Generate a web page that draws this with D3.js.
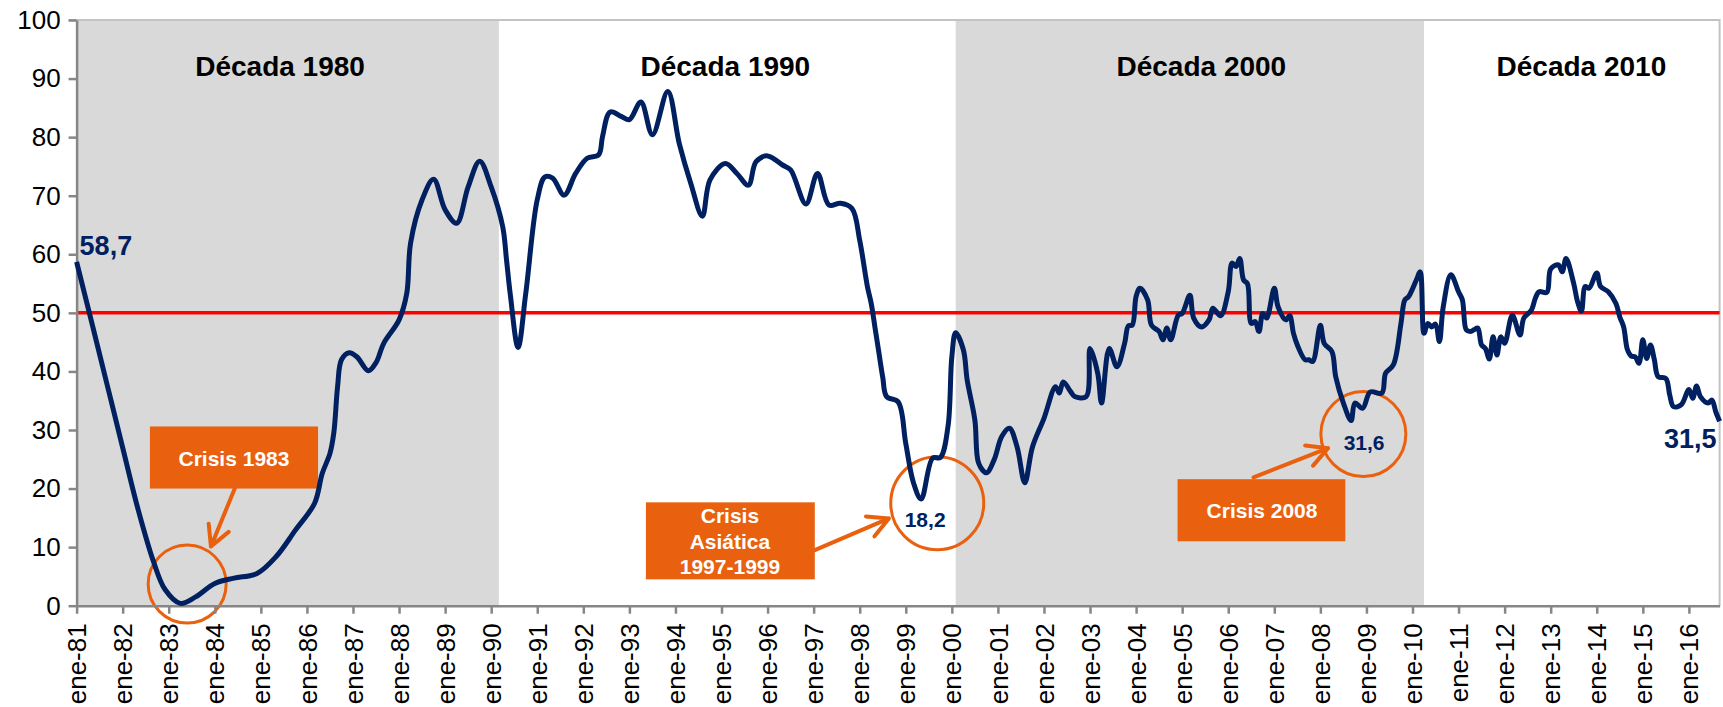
<!DOCTYPE html>
<html>
<head>
<meta charset="utf-8">
<script src="https://cdn.jsdelivr.net/npm/d3@7"></script>
<style>
    body { margin: 0; background: #fff; }
    text { font-family: "Liberation Sans", Arial, sans-serif; }
</style>
</head>
<body>
<div id="chart"></div>
<script>
// Months since ene-81 and index value
const meses = [
    0, 4, 8, 12, 16, 20, 23, 27, 31, 36, 41, 47, 52, 57, 62, 64, 66, 67, 68,
    69, 71, 73, 76, 78, 80, 84, 86, 87, 90, 93, 96, 99, 102, 105, 108, 111, 112, 113, 115,
    117, 120, 122, 124, 127, 130, 133, 136, 137, 139, 142, 144, 147, 150, 154, 157, 160, 163, 165, 169,
    172, 175, 177, 180, 184, 186, 190, 193, 196, 199, 202, 204, 206, 207, 208, 209, 210, 211, 214, 216,
    218, 220, 223, 225, 227, 228, 229, 231, 232, 234, 235, 237, 239, 241, 243, 245, 247, 249, 252, 255,
    256, 257, 259, 260, 263, 264, 266, 267, 269, 271, 273, 274, 275, 276, 277, 279, 280, 282, 283, 284,
    285, 287, 288, 290, 291, 293, 295, 296, 298, 300, 301, 302, 303, 304, 305, 306, 307, 308, 309, 310,
    312, 313, 315, 316, 317, 318, 320, 321, 322, 324, 325, 327, 328, 330, 332, 333, 335, 337, 340, 341,
    343, 345, 346, 347, 349, 350, 351, 352, 353, 354, 355, 356, 358, 360, 361, 362, 363, 364, 365, 366,
    367, 368, 369, 370, 371, 372, 374, 376, 377, 379, 380, 381, 383, 384, 386, 387, 388, 390, 391, 392,
    393, 394, 396, 397, 399, 401, 402, 403, 404, 405, 406, 407, 408, 409, 410, 411, 412, 414, 415, 416,
    418, 420, 421, 422, 423, 425, 426, 427, 428
];
const valores = [
    58.7, 48.2, 37.6, 27.0, 16.5, 7.6, 2.8, 0.4, 1.5, 3.8, 4.7, 5.5, 8.4, 12.9, 17.5, 22.6, 26.0, 29.5, 37.5,
    42.0, 43.2, 42.5, 40.1, 41.5, 44.8, 48.8, 53.3, 61.9, 69.3, 72.8, 67.6, 65.3, 71.5, 75.9, 71.5, 64.7, 59.0, 53.0, 44.1,
    53.3, 69.3, 73.2, 73.0, 70.1, 73.8, 76.4, 77.0, 80.1, 84.3, 83.5, 83.0, 86.0, 80.4, 87.8, 78.9, 72.1, 66.5, 72.7, 75.5,
    73.8, 71.8, 75.8, 76.8, 75.2, 74.4, 68.6, 73.8, 68.4, 68.7, 67.8, 62.4, 54.5, 51.6, 47.4, 43.2, 39.0, 35.7, 34.8, 27.7,
    21.0, 18.2, 25.2, 25.3, 30.6, 42.5, 46.6, 43.7, 38.5, 31.7, 24.3, 22.7, 24.9, 28.9, 30.3, 27.1, 21.0, 27.1, 32.0, 37.4,
    36.3, 38.2, 36.5, 35.7, 35.7, 43.9, 39.7, 34.6, 43.9, 40.8, 44.8, 47.8, 47.9, 52.8, 54.2, 52.2, 47.9, 46.8, 45.4, 47.4,
    45.4, 49.6, 49.9, 53.0, 49.1, 47.6, 48.8, 50.8, 49.5, 53.6, 58.5, 57.9, 59.3, 55.6, 55.0, 48.2, 48.5, 46.8, 49.9, 49.1,
    54.2, 51.0, 48.8, 49.5, 46.5, 44.5, 42.0, 42.0, 41.7, 47.9, 44.8, 43.4, 39.1, 34.6, 31.6, 34.6, 33.7, 36.5, 36.3, 39.7,
    41.1, 48.2, 52.2, 52.8, 55.6, 57.0, 46.5, 48.2, 47.6, 48.1, 45.1, 51.0, 56.5, 53.6, 52.2, 47.1, 46.8, 47.1, 47.4, 44.5,
    43.9, 42.1, 45.9, 42.8, 45.9, 44.8, 49.6, 46.2, 49.1, 50.5, 52.5, 53.6, 53.5, 57.5, 58.2, 57.0, 59.3, 55.0, 51.9, 50.3,
    54.5, 54.2, 56.8, 54.5, 53.6, 51.6, 49.3, 47.6, 43.7, 42.6, 42.5, 41.4, 45.4, 42.2, 44.5, 42.0, 39.1, 38.8, 36.0, 34.0,
    34.3, 36.9, 35.4, 37.5, 35.7, 34.6, 35.1, 33.1, 31.5
];

// Decade bands (months since ene-81)
const decadas = ['Década 1980', 'Década 1990', 'Década 2000', 'Década 2010'];
const decadaInicio = [0, 110, 229, 351];
const decadaFin = [110, 229, 351, 428];
const decadaSombreada = [true, false, true, false];

// Axis ticks
const yTicks = [0, 10, 20, 30, 40, 50, 60, 70, 80, 90, 100];
const xTickMeses = d3.range(0, 421, 12);
const mesTick = 'ene';
const anioInicio = 1981;
const umbral = 50;

// Crisis callouts
const crisisTextos = [['Crisis 1983'], ['Crisis', 'Asiática', '1997-1999'], ['Crisis 2008']];

// Value labels (month, value)
const etiquetaMes = [0, 428, 220, 332];
const etiquetaValor = [58.7, 31.5, 18.2, 31.6];

class IndiceChart {
    constructor(config) {
        this.config = {
            parentElement: config.parentElement,
            containerWidth: 1723,
            containerHeight: 707,
            margin: { top: 20, right: 3.4, bottom: 101.3, left: 76.6 },
            navy: '#002060',
            orange: '#E9600F',
            grid: '#868686'
        };
        // annotation layout, in data units (months, index)
        this.layout = {
            decadaLabelMes: [53, 169, 293, 392],
            circulos: [
                { m: 28.8, v: 3.7, r: 39 },
                { m: 224.2, v: 17.5, r: 46.5 },
                { m: 335.2, v: 29.3, r: 42.5 }
            ],
            cajas: [
                { m0: 19.1, m1: 62.9, v0: 30.6, v1: 20.0, tm: 41, tv: 23.85 },
                { m0: 148.3, m1: 192.3, v0: 17.65, v1: 4.5, tm: 170.2, tv: 14.07 },
                { m0: 286.8, m1: 330.5, v0: 21.6, v1: 11.0, tm: 308.8, tv: 14.9 }
            ],
            flechas: [
                { m0: 41.2, v0: 20, m1: 35, v1: 10.1 },
                { m0: 192.3, v0: 9.5, m1: 211.6, v1: 14.9 },
                { m0: 306.6, v0: 21.9, m1: 326, v1: 26.9 }
            ],
            etiquetas: [
                { dx: 3, dy: -7, anchor: 'start', size: 27 },
                { dx: -3, dy: 27, anchor: 'end', size: 27 },
                { dx: 4, dy: 28, anchor: 'middle', size: 21 },
                { dx: 13, dy: 29, anchor: 'middle', size: 21 }
            ]
        };
        this.data = meses.map((m, i) => ({ mes: m, valor: valores[i] }));
        this.initVis();
    }

    initVis() {
        let vis = this;

        vis.width = vis.config.containerWidth - vis.config.margin.left - vis.config.margin.right;
        vis.height = vis.config.containerHeight - vis.config.margin.top - vis.config.margin.bottom;

        vis.xScale = d3.scaleLinear()
            .domain([0, 428])
            .range([0, vis.width]);

        vis.yScale = d3.scaleLinear()
            .domain([0, 100])
            .range([vis.height, 0]);

        vis.xAxis = d3.axisBottom(vis.xScale)
            .tickValues(xTickMeses)
            .tickFormat(m => `${mesTick}-${String((anioInicio + m / 12) % 100).padStart(2, '0')}`)
            .tickSize(8)
            .tickSizeOuter(0);

        vis.yAxis = d3.axisLeft(vis.yScale)
            .tickValues(yTicks)
            .tickSize(8)
            .tickPadding(8)
            .tickSizeOuter(0);

        vis.svg = d3.select(vis.config.parentElement)
            .append('svg')
            .attr('width', vis.config.containerWidth)
            .attr('height', vis.config.containerHeight);

        vis.chart = vis.svg.append('g')
            .attr('transform', `translate(${vis.config.margin.left},${vis.config.margin.top})`);

        vis.bandsG = vis.chart.append('g');
        vis.frameG = vis.chart.append('g');
        vis.annotG = vis.chart.append('g');
        vis.xAxisG = vis.chart.append('g')
            .attr('class', 'axis x-axis')
            .attr('transform', `translate(0,${vis.height})`);
        vis.yAxisG = vis.chart.append('g')
            .attr('class', 'axis y-axis');
        vis.lineG = vis.chart.append('g');
        vis.labelG = vis.chart.append('g');

        vis.renderVis();
    }

    renderVis() {
        let vis = this;
        const x = vis.xScale, y = vis.yScale;
        const bands = decadas.map((d, i) => ({ name: d, start: decadaInicio[i], end: decadaFin[i], shade: decadaSombreada[i], lm: vis.layout.decadaLabelMes[i] }));

        // Decade background bands
        vis.bandsG.selectAll('.band')
            .data(bands.filter(d => d.shade))
            .join('rect')
            .attr('class', 'band')
            .attr('x', d => x(d.start))
            .attr('width', d => x(d.end) - x(d.start))
            .attr('y', y(100) + 1)
            .attr('height', y(0) - y(100) - 1)
            .attr('fill', '#D9D9D9');

        vis.bandsG.selectAll('.band-label')
            .data(bands)
            .join('text')
            .attr('class', 'band-label')
            .attr('x', d => x(d.lm))
            .attr('y', 56)
            .attr('text-anchor', 'middle')
            .style('font-size', '28px')
            .style('font-weight', 'bold')
            .attr('fill', '#000')
            .text(d => d.name);

        // plot frame (top + right)
        vis.frameG.append('path')
            .attr('d', `M${-8},${y(100)}H${vis.width}V${vis.height}`)
            .attr('fill', 'none')
            .attr('stroke', '#C3C3C3')
            .attr('stroke-width', 2);

        // 50 threshold
        vis.frameG.append('line')
            .attr('x1', x(0))
            .attr('x2', x(428))
            .attr('y1', y(umbral))
            .attr('y2', y(umbral))
            .attr('stroke', '#FF0000')
            .attr('stroke-width', 3.5);

        // Crisis boxes, circles and arrows
        vis.annotG.selectAll('.caja')
            .data(vis.layout.cajas)
            .join('rect')
            .attr('class', 'caja')
            .attr('x', d => x(d.m0))
            .attr('y', d => y(d.v0))
            .attr('width', d => x(d.m1) - x(d.m0))
            .attr('height', d => y(d.v1) - y(d.v0))
            .attr('fill', vis.config.orange);

        vis.annotG.selectAll('.caja-text')
            .data(vis.layout.cajas)
            .join('text')
            .attr('class', 'caja-text')
            .attr('x', d => x(d.tm))
            .attr('y', d => y(d.tv))
            .attr('text-anchor', 'middle')
            .attr('fill', '#fff')
            .style('font-size', '21px')
            .style('font-weight', 'bold')
            .each(function(d, i) {
                d3.select(this).selectAll('tspan')
                    .data(crisisTextos[i])
                    .join('tspan')
                    .attr('x', x(d.tm))
                    .attr('dy', (t, j) => j === 0 ? 0 : 25.5)
                    .text(t => t);
            });

        vis.annotG.selectAll('.circulo')
            .data(vis.layout.circulos)
            .join('circle')
            .attr('class', 'circulo')
            .attr('cx', d => x(d.m))
            .attr('cy', d => y(d.v))
            .attr('r', d => d.r)
            .attr('fill', 'none')
            .attr('stroke', vis.config.orange)
            .attr('stroke-width', 3);

        const headLen = 23, headAng = 28 * Math.PI / 180;
        vis.annotG.selectAll('.flecha')
            .data(vis.layout.flechas)
            .join('path')
            .attr('class', 'flecha')
            .attr('d', d => {
                const x0 = x(d.m0), y0 = y(d.v0), x1 = x(d.m1), y1 = y(d.v1);
                const a = Math.atan2(y0 - y1, x0 - x1);
                const p1 = [x1 + headLen * Math.cos(a - headAng), y1 + headLen * Math.sin(a - headAng)];
                const p2 = [x1 + headLen * Math.cos(a + headAng), y1 + headLen * Math.sin(a + headAng)];
                return `M${x0},${y0}L${x1},${y1}M${p1[0]},${p1[1]}L${x1},${y1}L${p2[0]},${p2[1]}`;
            })
            .attr('fill', 'none')
            .attr('stroke', vis.config.orange)
            .attr('stroke-width', 4)
            .attr('stroke-linecap', 'round')
            .attr('stroke-linejoin', 'round');

        // Axes
        vis.xAxisG.call(vis.xAxis);
        vis.xAxisG.selectAll('.tick text')
            .attr('transform', 'rotate(-90)')
            .attr('x', -17.6)
            .attr('y', 0)
            .attr('dy', '0.35em')
            .attr('text-anchor', 'end');

        vis.yAxisG.call(vis.yAxis);

        vis.chart.selectAll('.axis path, .axis line')
            .attr('stroke', vis.config.grid)
            .attr('stroke-width', 2.5);
        vis.chart.selectAll('.axis text')
            .attr('fill', '#000')
            .style('font-family', '"Liberation Sans", Arial, sans-serif')
            .style('font-size', '26px');

        // Index line (smoothed like the original)
        const line = d3.line()
            .x(d => x(d.mes))
            .y(d => y(d.valor))
            .curve(d3.curveCatmullRom.alpha(0.5));

        vis.lineG.append('path')
            .datum(vis.data)
            .attr('d', line)
            .attr('fill', 'none')
            .attr('stroke', vis.config.navy)
            .attr('stroke-width', 5)
            .attr('stroke-linejoin', 'round');

        // Value labels
        const labels = etiquetaMes.map((m, i) => Object.assign({ mes: m, valor: etiquetaValor[i] }, vis.layout.etiquetas[i]));
        vis.labelG.selectAll('.valor-label')
            .data(labels)
            .join('text')
            .attr('class', 'valor-label')
            .attr('x', d => x(d.mes) + d.dx)
            .attr('y', d => y(d.valor) + d.dy)
            .attr('text-anchor', d => d.anchor)
            .attr('fill', vis.config.navy)
            .style('font-size', d => d.size + 'px')
            .style('font-weight', 'bold')
            .text(d => d3.format('.1f')(d.valor).replace('.', ','));
    }
}

const indiceChart = new IndiceChart({ parentElement: '#chart' });
</script>
</body>
</html>
